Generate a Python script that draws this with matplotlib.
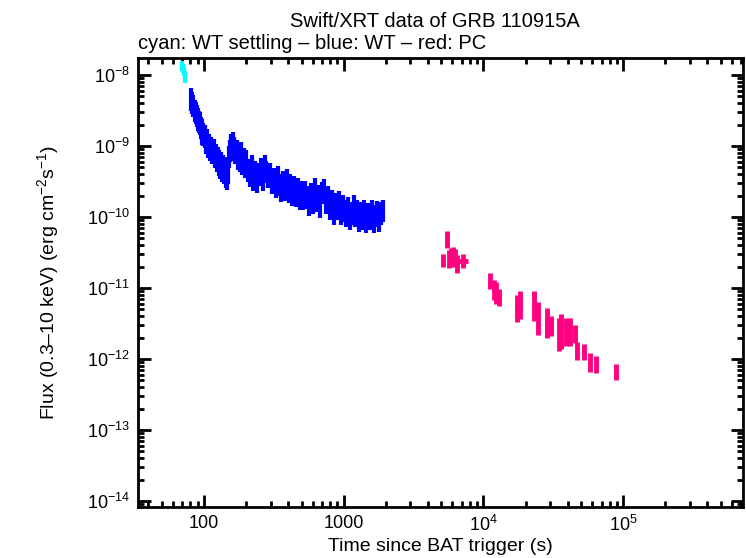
import matplotlib
matplotlib.use('Agg')
import matplotlib.pyplot as plt
import numpy as np
from matplotlib.ticker import LogLocator, NullFormatter, FixedLocator

plt.rcParams['font.family'] = ['Liberation Sans', 'DejaVu Sans']
plt.rcParams['mathtext.fontset'] = 'custom'
plt.rcParams['mathtext.rm'] = 'Liberation Sans'

# ---------------- data ----------------
# WT settling (cyan)
wts_time = [69.5, 70.5, 71.5, 72.5, 73.5]
wts_flux = [1.35e-8, 1.25e-8, 1.12e-8, 1.0e-8, 9.0e-9]

# WT (blue)
wt_time = [81, 82.5, 84, 85.5, 87, 88.5, 90, 91.5, 93, 94.5, 96, 97.5, 99, 101, 103, 105,
           107, 109, 111, 113, 115, 117, 119, 121, 123, 125, 127, 129, 131, 133, 135, 137,
           139, 141, 143, 145, 147,
           149, 151, 153, 155, 157, 159, 161, 163, 165, 168, 171, 174, 177, 180, 184, 188,
           192, 196, 200,
           205, 212, 219, 226, 233, 240, 248, 256, 264, 272, 280, 289, 298, 307, 316, 326,
           336, 346, 357, 368, 379, 391, 403, 415, 428, 441, 455, 469, 484, 499,
           515, 531, 548, 565, 583, 601, 620, 640, 660, 681, 702, 724, 747, 770, 794, 819,
           845, 871, 898, 926, 955, 985,
           1015, 1045, 1075, 1105, 1140, 1175, 1210, 1245, 1285, 1325, 1365, 1405, 1450,
           1495, 1540, 1585, 1635, 1685, 1735, 1790, 1845, 1900]
wt_flux = [4.8e-9, 4.3e-9, 3.9e-9, 3.3e-9, 3.1e-9, 2.8e-9, 2.5e-9, 2.3e-9, 2.2e-9, 1.9e-9,
           1.8e-9, 1.6e-9, 1.55e-9, 1.45e-9, 1.2e-9, 1.3e-9, 1.05e-9, 1.1e-9, 9.5e-10,
           1.0e-9, 8.5e-10, 9.2e-10, 7.6e-10, 8.0e-10, 6.6e-10, 7.2e-10, 5.8e-10, 6.5e-10,
           5.3e-10, 6.0e-10, 4.7e-10, 5.5e-10, 4.4e-10, 5.2e-10, 3.9e-10, 4.4e-10, 3.7e-10,
           4.5e-10, 7.5e-10, 9.0e-10, 1.0e-9, 1.1e-9, 1.05e-9, 1.15e-9, 9.5e-10, 1.0e-9,
           8.5e-10, 9.0e-10, 7.0e-10, 8.0e-10, 6.5e-10, 8.5e-10, 6.0e-10, 7.0e-10, 5.5e-10,
           6.5e-10,
           4.8e-10, 4.0e-10, 5.5e-10, 3.6e-10, 4.5e-10, 3.3e-10, 4.2e-10, 5.0e-10, 3.6e-10,
           5.5e-10, 4.6e-10, 3.9e-10, 4.3e-10, 3.2e-10, 3.6e-10, 2.8e-10, 3.9e-10, 3.0e-10,
           2.5e-10, 3.3e-10, 2.6e-10, 3.5e-10, 2.4e-10, 3.0e-10, 2.2e-10, 2.8e-10, 2.1e-10,
           2.6e-10, 1.9e-10, 2.4e-10,
           1.9e-10, 2.4e-10, 2.0e-10, 1.6e-10, 2.2e-10, 1.7e-10, 2.6e-10, 1.8e-10, 2.1e-10,
           1.5e-10, 2.3e-10, 2.5e-10, 1.7e-10, 2.0e-10, 1.4e-10, 1.8e-10, 1.2e-10, 1.6e-10,
           1.4e-10, 1.7e-10, 1.2e-10, 1.5e-10,
           1.3e-10, 1.1e-10, 1.4e-10, 1.0e-10, 1.2e-10, 1.5e-10, 1.1e-10, 1.3e-10, 9.5e-11,
           1.2e-10, 1.0e-10, 1.3e-10, 9.0e-11, 1.15e-10, 1.0e-10, 1.3e-10, 9.0e-11, 1.1e-10,
           1.25e-10, 9.5e-11, 1.2e-10, 1.3e-10]
wt_rel_err = 0.35

# PC (red/pink)
pc_time = [5160, 5500, 5650, 5850, 6050, 6250, 6500, 7150, 11200, 11800, 12300, 12900,
           17300, 18300, 23000, 24500, 28500, 30200, 34500, 36000, 39000, 41500, 45000,
           47000, 52000, 58000, 64000, 89000]
pc_terr = [100, 100, 100, 100, 100, 100, 150, 550, 200, 200, 200, 250,
           400, 500, 400, 500, 500, 500, 500, 600, 600, 700, 700,
           800, 1500, 1000, 1200, 1500]
pc_flux = [2.5e-11, 4.8e-11, 2.6e-11, 2.9e-11, 3.2e-11, 2.8e-11, 2.2e-11, 2.4e-11,
           1.2e-11, 1.0e-11, 8.5e-12, 7.5e-12, 5.0e-12, 5.6e-12, 5.5e-12, 3.7e-12,
           3.2e-12, 2.8e-12, 2.2e-12, 2.5e-12, 2.3e-12, 2.5e-12, 2.3e-12, 1.3e-12,
           1.25e-12, 8.8e-13, 8.3e-13, 6.5e-13]
pc_flux_lo = [2.0e-11, 3.7e-11, 1.9e-11, 2.0e-11, 2.4e-11, 2.0e-11, 1.6e-11, 1.9e-11,
              9.5e-12, 6.8e-12, 6.0e-12, 5.6e-12, 3.3e-12, 3.6e-12, 3.4e-12, 2.2e-12,
              2.0e-12, 2.1e-12, 1.3e-12, 1.4e-12, 1.5e-12, 1.5e-12, 1.7e-12, 9.6e-13,
              9.6e-13, 6.6e-13, 6.3e-13, 5.0e-13]
pc_flux_hi = [3.0e-11, 6.3e-11, 3.4e-11, 3.6e-11, 3.8e-11, 3.5e-11, 2.9e-11, 3.0e-11,
              1.6e-11, 1.3e-11, 1.2e-11, 9.5e-12, 8.0e-12, 9.0e-12, 9.0e-12, 6.3e-12,
              5.2e-12, 4.0e-12, 3.8e-12, 4.3e-12, 3.8e-12, 3.8e-12, 3.0e-12, 1.75e-12,
              1.6e-12, 1.2e-12, 1.1e-12, 8.5e-13]

x_ticks = [100, 1000, 1e4, 1e5]
x_tick_labels = ['100', '1000', r'10$^{4}$', r'10$^{5}$']
y_ticks = [1e-14, 1e-13, 1e-12, 1e-11, 1e-10, 1e-9, 1e-8]
y_tick_labels = [r'10$^{-14}$', r'10$^{-13}$', r'10$^{-12}$', r'10$^{-11}$',
                 r'10$^{-10}$', r'10$^{-9}$', r'10$^{-8}$']

# ---------------- plot ----------------
fig = plt.figure(figsize=(7.46, 5.58), dpi=100)
ax = fig.add_axes([0.185, 0.0914, 0.811, 0.805])

wts_flux = np.array(wts_flux)
ax.errorbar(wts_time, wts_flux, yerr=wts_flux * 0.15, fmt='none',
            ecolor='#00ffff', elinewidth=3, capsize=0)

wt_flux = np.array(wt_flux)
ax.errorbar(wt_time, wt_flux, yerr=wt_flux * wt_rel_err, fmt='none',
            ecolor='#0000ff', elinewidth=3, capsize=0)

pc_flux = np.array(pc_flux)
pc_err = [pc_flux - np.array(pc_flux_lo), np.array(pc_flux_hi) - pc_flux]
ax.errorbar(pc_time, pc_flux, xerr=pc_terr, yerr=pc_err, fmt='none',
            ecolor='#ff0080', elinewidth=3.5, capsize=0)

ax.set_xscale('log')
ax.set_yscale('log')
ax.set_xlim(33.7, 7.2e5)
ax.set_ylim(8.2e-15, 1.74e-8)

ax.xaxis.set_major_locator(FixedLocator(x_ticks))
ax.set_xticklabels(x_tick_labels)
ax.xaxis.set_minor_locator(LogLocator(base=10, subs=np.arange(2, 10), numticks=20))
ax.xaxis.set_minor_formatter(NullFormatter())
ax.yaxis.set_major_locator(FixedLocator(y_ticks))
ax.set_yticklabels(y_tick_labels)
ax.yaxis.set_minor_locator(LogLocator(base=10, subs=np.arange(2, 10), numticks=20))
ax.yaxis.set_minor_formatter(NullFormatter())

ax.tick_params(which='both', direction='in', top=True, right=True, width=2,
               labelsize=13, pad=6)
ax.tick_params(which='major', length=9)
ax.tick_params(which='minor', length=4)
for sp in ax.spines.values():
    sp.set_linewidth(2)

ax.set_xlabel('Time since BAT trigger (s)', fontsize=14, labelpad=2)
ax.set_ylabel('Flux (0.3\u201310 keV) (erg cm$^{-2}$s$^{-1}$)', fontsize=14, labelpad=18)

fig.text(0.583, 0.962, 'Swift/XRT data of GRB 110915A', ha='center', va='center', fontsize=14.5)
fig.text(0.185, 0.922, 'cyan: WT settling \u2013 blue: WT \u2013 red: PC', ha='left',
         va='center', fontsize=14.5)

fig.savefig('out.png', dpi=100)
